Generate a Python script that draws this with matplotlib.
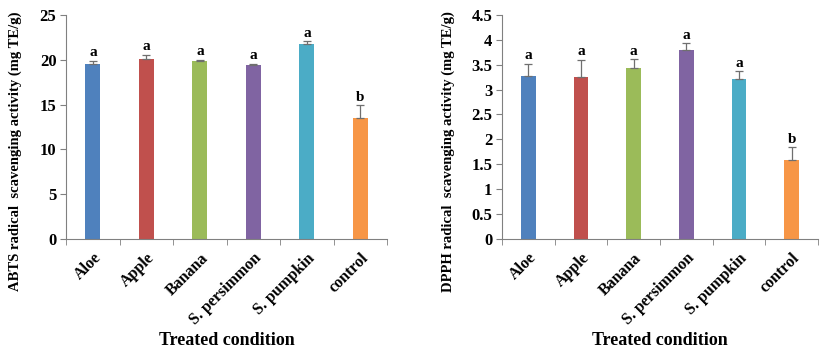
import numpy as np
import matplotlib; matplotlib.use("Agg"); import matplotlib.pyplot as plt

categories = ["Aloe", "Apple", "Banana", "S. persimmon", "S. pumpkin", "control"]
abts = [19.5, 20.1, 19.8, 19.4, 21.7, 13.5]
abts_err = [0.35, 0.4, 0.15, 0.1, 0.35, 1.4]
dpph = [3.27, 3.25, 3.43, 3.79, 3.21, 1.59]
dpph_err = [0.25, 0.35, 0.18, 0.14, 0.16, 0.25]
letters = ["a", "a", "a", "a", "a", "b"]
colors = ["#4F81BD", "#C0504D", "#9BBB59", "#8064A2", "#4BACC6", "#F79646"]

plt.rcParams["font.family"] = ["Liberation Serif", "DejaVu Serif"]
plt.rcParams["font.weight"] = "bold"

fig = plt.figure(figsize=(8.27, 3.54), dpi=100)
ax1 = fig.add_axes([0.080, 0.325, 0.388, 0.633])
ax2 = fig.add_axes([0.607, 0.325, 0.382, 0.633])


def panel(ax, vals, errs, ymax, step, ylabel, pad, ylab_x):
    x = np.arange(len(categories))
    ax.bar(x, vals, width=0.28, color=colors, zorder=2)
    ax.errorbar(x, vals, yerr=[np.zeros(len(errs)), errs], fmt="none",
                ecolor="#6f6f6f", elinewidth=0.9, capsize=3, capthick=0.9, zorder=3)
    for xi, v, e, l in zip(x, vals, errs, letters):
        ax.text(xi, v + e + pad, l, ha="center", va="bottom", fontsize=11, fontweight="bold")
    ax.set_xlim(-0.5, len(categories) - 0.5)
    ax.set_ylim(0, ymax)
    ticks = np.arange(0, ymax + step / 2, step)
    ax.set_yticks(ticks)
    ax.set_yticklabels([f"{t:g}" for t in ticks], fontsize=12, fontweight="bold")
    ax.set_xticks(x)
    ax.set_xticklabels(categories, rotation=45, ha="right", rotation_mode="anchor",
                       fontsize=11.5, fontweight="bold")
    ax.set_xticks(np.arange(-0.5, len(categories)), minor=True)
    ax.tick_params(axis="x", which="major", length=0, pad=8)
    ax.tick_params(axis="x", which="minor", length=4, color="#808080")
    ax.tick_params(axis="y", length=4, color="#808080", pad=3)
    for s in ["top", "right"]:
        ax.spines[s].set_visible(False)
    for s in ["left", "bottom"]:
        ax.spines[s].set_color("#808080")
    ax.set_ylabel(ylabel, fontsize=10.5, fontweight="bold")
    ax.yaxis.set_label_coords(ylab_x, 0.39)
    ax.set_xlabel("Treated condition", fontsize=13, fontweight="bold")
    ax.xaxis.set_label_coords(0.5, -0.415)


panel(ax1, abts, abts_err, 25, 5, "ABTS radical  scavenging activity (mg TE/g)", 0.2, -0.137)
panel(ax2, dpph, dpph_err, 4.5, 0.5, "DPPH radical  scavenging activity (mg TE/g)", 0.03, -0.149)

fig.savefig("out.png", dpi=100)
